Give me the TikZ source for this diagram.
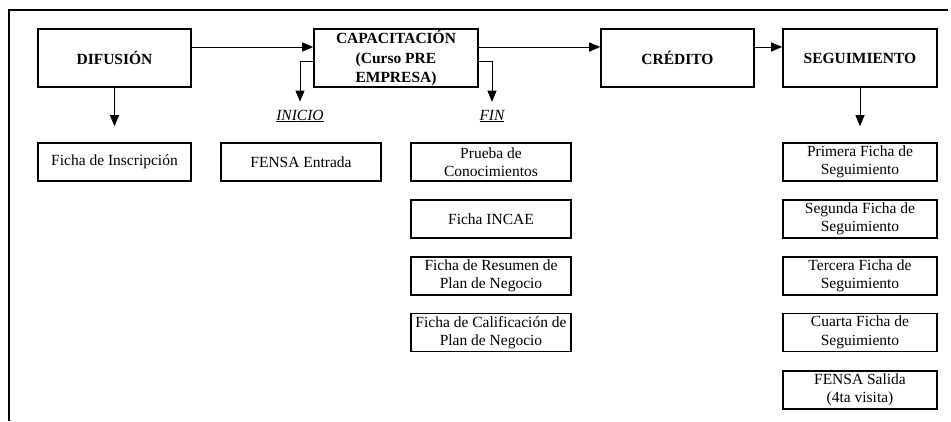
\documentclass[tikz,border=0pt]{standalone}
\usepackage{fontspec}
\setmainfont{Liberation Serif}
\usetikzlibrary{arrows.meta}

\tikzset{
  etapa/.style={draw, line width=1.6pt, align=center, inner sep=1pt,
    minimum height=58pt, font=\fontsize{15.5}{19.5}\selectfont\bfseries},
  ficha/.style={draw, line width=1.6pt, align=center, inner sep=1pt,
    minimum height=38pt, minimum width=160pt, font=\fontsize{15.5}{18.5}\selectfont},
  hito/.style={inner sep=0pt, font=\fontsize{15.5}{18.5}\selectfont\itshape},
  flecha/.style={-{Triangle[length=11pt,width=9pt]}, line width=0.9pt}
}

\begin{document}
\begin{tikzpicture}[x=1pt,y=-1pt]
    \useasboundingbox (0,0) rectangle (951,421);
    \draw[line width=2.2pt](9,421)--(9,10)--(948,10);

    % etapas
    \node[etapa, minimum width=153pt](dif) at (114.5,58){DIFUSIÓN};
    \node[etapa, minimum width=164pt](cap) at (396,58){CAPACITACIÓN\\(Curso PRE\\EMPRESA)};
    \node[etapa, minimum width=153pt](cred) at (677.5,58){CRÉDITO};
    \node[etapa, minimum width=154pt](seg) at (860,58){SEGUIMIENTO};

    \draw[flecha]([yshift=11pt]dif.east)--([yshift=11pt]cap.west);
    \draw[flecha]([yshift=11pt]cap.east)--([yshift=11pt]cred.west);
    \draw[flecha]([yshift=11pt]cred.east)--([yshift=11pt]seg.west);

    % inicio y fin
    \node[hito](inicio) at (300,116){\underline{INICIO}};
    \node[hito](fin) at (492,116){\underline{FIN}};
    \draw[flecha, shorten >=8pt]([yshift=-3pt]cap.west)-|(inicio.north);
    \draw[flecha, shorten >=8pt]([yshift=-3pt]cap.east)-|(fin.north);

    % fichas
    \node[ficha, minimum width=153pt](inscr) at (114.5,162){Ficha de Inscripción};
    \node[ficha](entrada) at (301,162){FENSA Entrada};
    \node[ficha](prueba) at (491,162){Prueba de\\Conocimientos};
    \node[ficha](incae) at (491,219){Ficha INCAE};
    \node[ficha](resumen) at (491,276){Ficha de Resumen de\\Plan de Negocio};
    \node[ficha](calif) at (491,332.5){Ficha de Calificación de\\Plan de Negocio};

    \node[ficha, minimum width=154pt](seg1) at (860,162){Primera Ficha de\\Seguimiento};
    \node[ficha, minimum width=154pt](seg2) at (860,219){Segunda Ficha de\\Seguimiento};
    \node[ficha, minimum width=154pt](seg3) at (860,276){Tercera Ficha de\\Seguimiento};
    \node[ficha, minimum width=154pt](seg4) at (860,332.5){Cuarta Ficha de\\Seguimiento};
    \node[ficha, minimum width=154pt](salida) at (860,390){FENSA Salida\\(4ta visita)};

    \draw[flecha, shorten >=16pt](dif)--(inscr);
    \draw[flecha, shorten >=16pt](seg)--(seg1);
\end{tikzpicture}
\end{document}
